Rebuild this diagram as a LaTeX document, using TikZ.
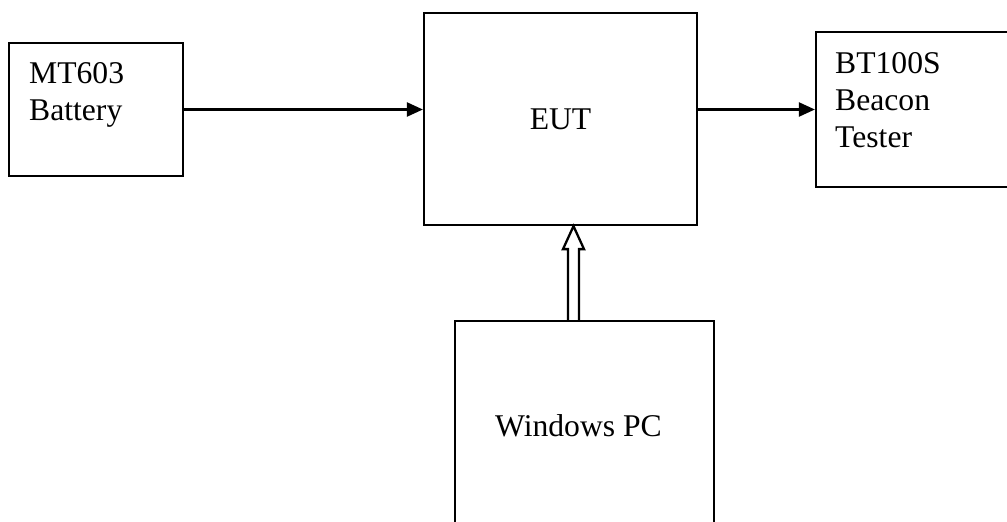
\documentclass[tikz,border=0pt]{standalone}
\usepackage{fontspec}
\setmainfont{Liberation Serif}
\usetikzlibrary{arrows.meta,positioning,calc}

\begin{document}
\begin{tikzpicture}[x=0.02cm, y=-0.02cm,
    box/.style={draw, line width=1.3pt, inner sep=0pt},
    lbl/.style={font=\fontsize{18}{21}\selectfont, align=left, inner sep=0pt},
    arr/.style={-{Triangle[length=3.2mm,width=2.8mm]}, line width=1.3pt}]
           \useasboundingbox (0,0) rectangle (1007,521);
           \node [box, minimum width=3.48cm, minimum height=2.66cm] (bat) at (96,109.5) {};
           \node [box, minimum width=5.46cm, minimum height=4.24cm, lbl] (eut) at (560.5,119) {EUT};
           \node [box, minimum width=5.68cm, minimum height=3.1cm] (bt) at (958,109.5) {};
           \node [box, minimum width=5.18cm, minimum height=4.18cm] (pc) at (584.5,425.5) {};
           \node [lbl, below right=0.4cm and 0.42cm of bat.north west] (batlbl) {MT603\\Battery};
           \node [lbl, below right=0.42cm and 0.4cm of bt.north west] (btlbl) {BT100S\\Beacon\\Tester};
           \node [lbl, xshift=-0.12cm] at (pc) (pclbl) {Windows PC};
           \draw [arr] (bat.east) -- (bat.east -| eut.west);
           \draw [arr] (eut.east |- bt.west) -- (bt.west);
           \path (573.5,0) coordinate (ax);
           \coordinate (tip) at (eut.south -| ax);
           \coordinate (tail) at (pc.north -| ax);
           \draw [line width=1.3pt, line join=miter] (tail) ++(-5.5,0) -- ($(tip)+(-5.5,23)$) -- ++(-5,0) -- (tip)
                 -- ($(tip)+(10.5,23)$) -- ++(-5,0) -- ($(tail)+(5.5,0)$);
      \end{tikzpicture}
\end{document}
